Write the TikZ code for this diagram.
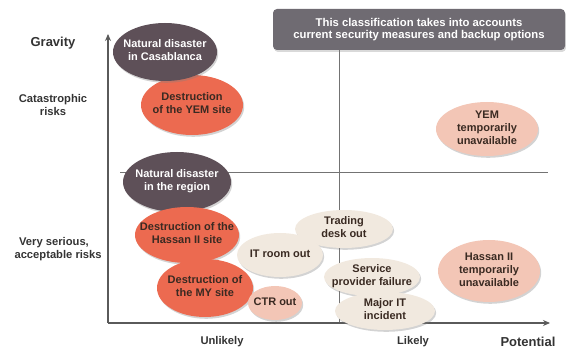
\documentclass[tikz,border=0pt]{standalone}
\usepackage{fontspec}
\setmainfont{Liberation Sans}
\usetikzlibrary{shapes.geometric,arrows.meta,shadows}

\definecolor{darkrisk}{HTML}{5E5058}
\definecolor{highrisk}{HTML}{EC6A50}
\definecolor{midrisk}{HTML}{F3C6B6}
\definecolor{lowrisk}{HTML}{F1E9DF}
\definecolor{notegray}{HTML}{6F6B72}
\definecolor{axisgray}{HTML}{5A5A5A}
\definecolor{labeltext}{HTML}{333333}
\definecolor{bubbletext}{HTML}{3A2A22}

% bubble text that does not enlarge the ellipse around it
\newcommand{\bubbletxt}[1]{\raisebox{-5pt}{\makebox[0pt]{\smash{\begin{tabular}{@{}c@{}}#1\end{tabular}}}}}

\tikzset{
  risk/.style={ellipse, inner sep=0pt,
    font=\bfseries\fontsize{11}{13}\selectfont, text=bubbletext,
    drop shadow={shadow xshift=1.2pt, shadow yshift=-1.8pt, opacity=0.35}},
  dark/.style={risk, fill=darkrisk, text=white},
  high/.style={risk, fill=highrisk},
  mid/.style={risk, fill=midrisk},
  low/.style={risk, fill=lowrisk},
  axislabel/.style={font=\bfseries\fontsize{11.2}{13}\selectfont, text=labeltext, align=center},
  axistitle/.style={font=\bfseries\fontsize{13}{15}\selectfont, text=labeltext},
  axisline/.style={draw=axisgray, line width=1.1pt, -{Stealth[length=7pt,width=6pt]}},
  divider/.style={draw=axisgray!85, line width=0.8pt},
}

\begin{document}
\begin{tikzpicture}[x=1pt, y=-1pt]
\useasboundingbox (0,0) rectangle (566,350);

% axes and quadrant dividers
\coordinate (O) at (108,323);
\coordinate (ytip) at (108,34);
\coordinate (xtip) at (550,323);
\coordinate (vtop) at (339,50);
\coordinate (vbot) at (339,323);
\coordinate (hleft) at (120,172);
\coordinate (hright) at (548,172);

\draw[divider] (vtop) -- (vbot);
\draw[divider] (hleft) -- (hright);
\draw[axisline] (O) -- (ytip);
\draw[axisline] (O) -- (xtip);

% note box
\node[fill=notegray, rounded corners=4pt, minimum width=292pt, minimum height=41pt,
      text=white, align=center, font=\bfseries\fontsize{11.3}{12.5}\selectfont,
      drop shadow={shadow xshift=1pt, shadow yshift=-2pt, opacity=0.3}]
  (note) at (419,29.5) {This classification takes into accounts\\current security measures and backup options};

% axis labels
\node[axistitle] (gravity) at (53,43) {Gravity};
\node[axislabel] (catastrophic) at (53,105) {Catastrophic\\risks};
\node[axislabel] (serious1) at (54,243) {Very serious,};
\node[axislabel, anchor=west] (serious2) at (11,256) {acceptable risks};
\node[axislabel] (unlikely) at (222,342) {Unlikely};
\node[axislabel] (likely) at (413,342) {Likely};
\node[axistitle] (potential) at (528,342) {Potential};

% risk bubbles
\node[low, minimum width=98pt, minimum height=38pt] (trading) at (344,229) {\bubbletxt{Trading\\desk out}};
\node[low, minimum width=86pt, minimum height=44pt] (itroom) at (280,255) {\bubbletxt{IT room out}};
\node[dark, minimum width=108pt, minimum height=60pt] (region) at (177,182) {\bubbletxt{Natural disaster\\in the region}};
\node[high, minimum width=104pt, minimum height=56pt] (hassan) at (187,235) {\bubbletxt{Destruction of the\\Hassan II site}};
\node[high, minimum width=96pt, minimum height=58pt] (mysite) at (205,288) {\bubbletxt{Destruction of\\the MY site}};
\node[mid, minimum width=54pt, minimum height=34pt] (ctr) at (275,303) {\bubbletxt{CTR out}};
\node[low, minimum width=96pt, minimum height=38pt] (service) at (372,277) {\bubbletxt{Service\\provider failure}};
\node[low, minimum width=100pt, minimum height=38pt] (major) at (385,311) {\bubbletxt{Major IT\\incident}};
\node[high, minimum width=102pt, minimum height=60pt] (yem) at (192,105) {\bubbletxt{Destruction\\of the YEM site}};
\node[dark, minimum width=104pt, minimum height=58pt] (casa) at (165,52) {\bubbletxt{Natural disaster\\in Casablanca}};
\node[mid, minimum width=102pt, minimum height=54pt] (yemtmp) at (487,129) {\bubbletxt{YEM\\temporarily\\unavailable}};
\node[mid, minimum width=102pt, minimum height=62pt] (hassantmp) at (489,271) {\bubbletxt{Hassan II\\temporarily\\unavailable}};
\end{tikzpicture}
\end{document}
